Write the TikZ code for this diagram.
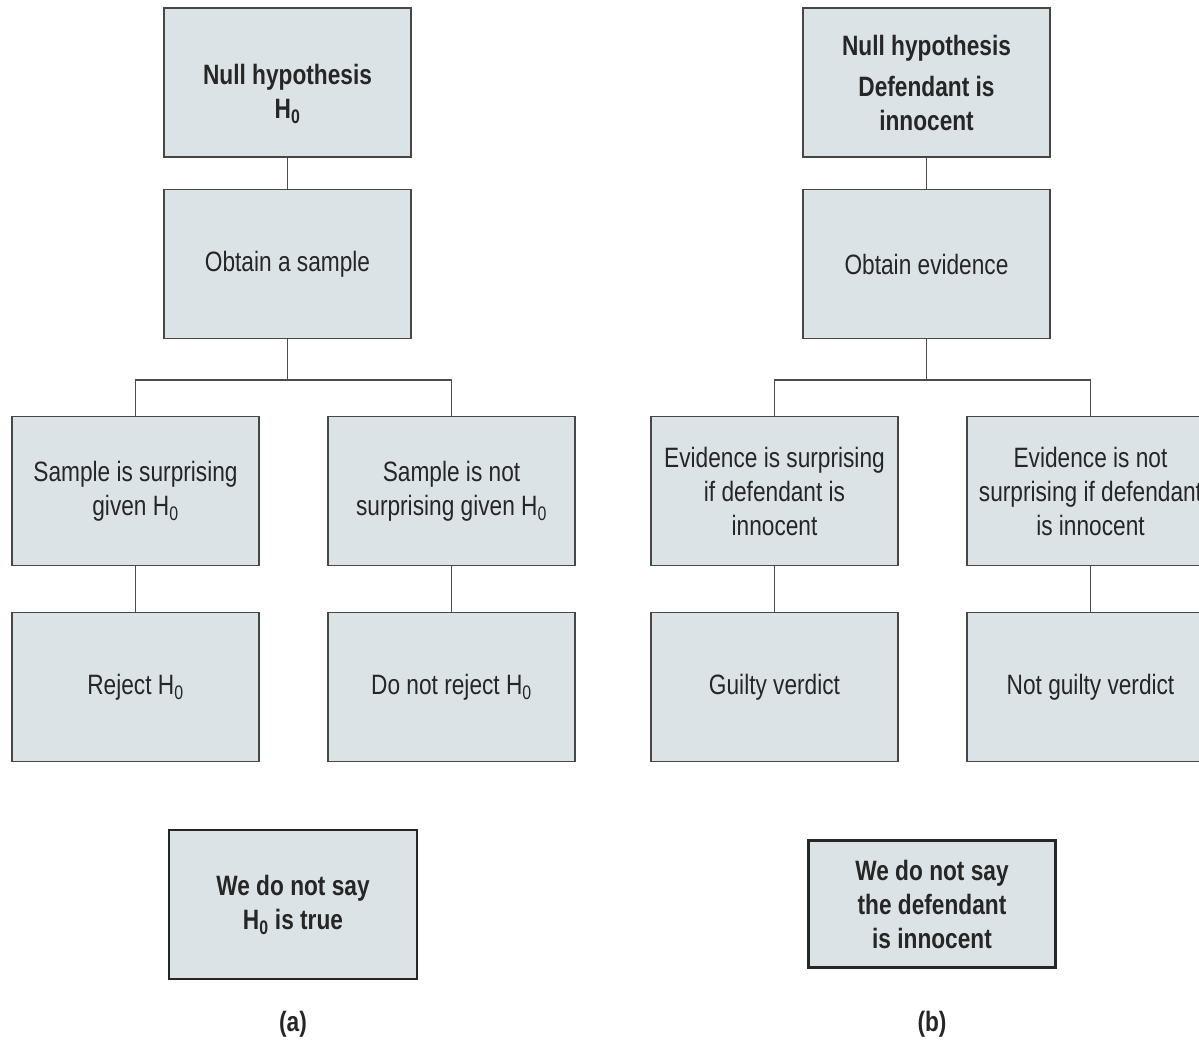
\documentclass[tikz,border=0pt]{standalone}
\usepackage{fontspec}
\setmainfont[FakeStretch=0.81]{Liberation Sans}
\newcommand{\Hz}{H\textsubscript{0}}
\begin{document}
\begin{tikzpicture}[x=1pt,y=-1pt,
  box/.style={draw=black!72, line width=1.4pt, fill=boxfill, minimum width=247pt, minimum height=149pt, align=center, inner sep=2pt, font=\fontsize{28}{34}\selectfont, text=black!85},
  bbox/.style={box, font=\fontsize{28}{34}\selectfont\bfseries},
  note/.style={bbox, line width=2.8pt, draw=black!85},
  conn/.style={draw=black!70, line width=1.4pt}]
\definecolor{boxfill}{HTML}{DCE3E7}
\useasboundingbox (0,0) rectangle (1199,1039);
\clip (0,0) rectangle (1199,1039);
% (a)
\node[bbox] (a1) at (287.5,82.5) {\vphantom{X}\\[-10pt]Null hypothesis\\\Hz};
\node[box] (a2) at (287.5,264) {Obtain a sample};
\node[box] (a3) at (135.5,491) {Sample is surprising\\given \Hz};
\node[box] (a4) at (451.5,491) {Sample is not\\surprising given \Hz};
\node[box] (a5) at (135.5,687) {Reject \Hz};
\node[box] (a6) at (451.5,687) {Do not reject \Hz};
\node[note, minimum width=248pt, minimum height=149pt] (a7) at (293,904.5) {We do not say\\\Hz{} is true};
\node[font=\fontsize{28}{30}\selectfont\bfseries, text=black!85] (al) at (293,1024) {(a)};
\coordinate (aj) at (287.5,380);
\draw[conn] (a1) -- (a2);
\draw[conn] (a2) -- (aj);
\draw[conn] (a3.north) |- (aj) -| (a4.north);
\draw[conn] (a3) -- (a5);
\draw[conn] (a4) -- (a6);
% (b)
\node[bbox] (b1) at (926.5,82.5) {Null hypothesis\\[7pt]Defendant is\\innocent};
\node[box] (b2) at (926.5,264) {Obtain evidence};
\node[box] (b3) at (774.5,491) {Evidence is surprising\\if defendant is\\innocent};
\node[box] (b4) at (1090.5,491) {Evidence is not\\surprising if defendant\\is innocent};
\node[box] (b5) at (774.5,687) {Guilty verdict};
\node[box] (b6) at (1090.5,687) {Not guilty verdict};
\node[note, minimum width=247pt, minimum height=127pt] (b7) at (932,904) {We do not say\\the defendant\\is innocent};
\node[font=\fontsize{28}{30}\selectfont\bfseries, text=black!85] (bl) at (932,1024) {(b)};
\coordinate (bj) at (926.5,380);
\draw[conn] (b1) -- (b2);
\draw[conn] (b2) -- (bj);
\draw[conn] (b3.north) |- (bj) -| (b4.north);
\draw[conn] (b3) -- (b5);
\draw[conn] (b4) -- (b6);
\end{tikzpicture}
\end{document}
